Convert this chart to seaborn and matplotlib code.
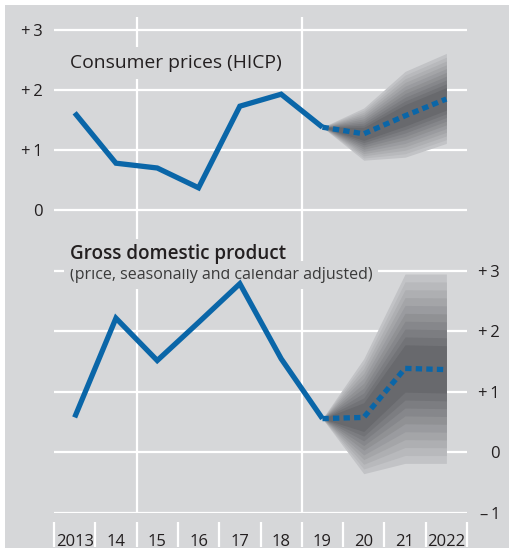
import numpy as np
import pandas as pd
import matplotlib
matplotlib.use("Agg")
import matplotlib.pyplot as plt
import seaborn as sns
from matplotlib.patches import Rectangle

# data (annual change in %)
years = [2013, 2014, 2015, 2016, 2017, 2018, 2019, 2020, 2021, 2022]
year_labels = ["2013", "14", "15", "16", "17", "18", "19", "20", "21", "2022"]

hicp = [1.62, 0.78, 0.70, 0.37, 1.73, 1.93, 1.38, 1.27, 1.57, 1.85]
hicp_upper = [1.38, 1.70, 2.31, 2.61]   # 2019-2022 outer fan edge
hicp_lower = [1.38, 0.83, 0.88, 1.11]

gdp = [0.58, 2.22, 1.52, 2.15, 2.79, 1.55, 0.56, 0.58, 1.39, 1.37]
gdp_upper = [0.56, 1.55, 2.95, 2.95]
gdp_lower = [0.56, -0.35, -0.18, -0.18]

n_hist = 7  # 2013-2019 outturn, 2019-2022 projection

# fan levels as share of the outer range (core band last)
fan_levels = [1.0, 0.917, 0.833, 0.75, 0.667, 0.583, 0.5, 0.417, 0.333, 0.25]

BG = "#d6d7d9"
BLUE = "#0a66a8"
TXT = "#231f20"

sns.set_theme(style="white", rc={"axes.facecolor": "none"})
plt.rcParams["font.family"] = ["Open Sans", "DejaVu Sans"]

W, H = 510, 555
fig = plt.figure(figsize=(W / 100, H / 100), dpi=100, facecolor="white")
fig.add_artist(Rectangle((5 / W, 7 / H), 1, 1 - 12 / H, transform=fig.transFigure,
                         facecolor=BG, edgecolor="none", zorder=-10))


def px_rect(left, top, right, bottom):
    return [left / W, 1 - bottom / H, (right - left) / W, (bottom - top) / H]


ax1 = fig.add_axes(px_rect(54, 17, 467, 240))
ax2 = fig.add_axes(px_rect(54, 240, 467, 513))

fan_colors = sns.blend_palette(["#c2c3c6", "#68696d"], len(fan_levels))


def draw_panel(ax, values, upper, lower):
    df = pd.DataFrame({"year": years, "value": values})
    hist = df.iloc[:n_hist]
    proj = df.iloc[n_hist - 1:]
    mid = np.array(proj["value"])
    up = np.array(upper)
    lo = np.array(lower)
    for lev, col in zip(fan_levels, fan_colors):
        ax.fill_between(proj["year"], mid - lev * (mid - lo), mid + lev * (up - mid),
                        color=col, lw=0, zorder=2)
    sns.lineplot(data=hist, x="year", y="value", ax=ax, color=BLUE, lw=3.8,
                 solid_joinstyle="miter", solid_capstyle="butt", zorder=4)
    sns.lineplot(data=proj, x="year", y="value", ax=ax, color=BLUE, lw=3.8,
                 linestyle=(0, (1.2, 0.8)), dash_capstyle="butt", zorder=4)
    ax.set_xlim(2012.5, 2022.5)
    for xv in (2014.5, 2018.5):
        ax.axvline(xv, color="white", lw=1.6, zorder=1)
    ax.grid(axis="y", color="white", lw=1.6, zorder=1)
    ax.set_axisbelow(True)
    for s in ax.spines.values():
        s.set_visible(False)
    ax.set_xlabel("")
    ax.set_ylabel("")


draw_panel(ax1, hicp, hicp_upper, hicp_lower)
draw_panel(ax2, gdp, gdp_upper, gdp_lower)

# top panel axis
ax1.set_ylim(-0.5, 3.2167)
ax1.set_yticks([0, 1, 2, 3])
ax1.set_yticklabels(["0", "+\u20091", "+\u20092", "+\u20093"])
ax1.tick_params(axis="y", length=0, pad=7.9, labelsize=12, labelcolor=TXT)
ax1.set_xticks([])

# bottom panel axis
ax2.set_ylim(-1, 3.512)
ax2.yaxis.tick_right()
ax2.set_yticks([-1, 0, 1, 2, 3])
ax2.set_yticklabels(["\u2013\u20091", "0", "+\u20091", "+\u20092", "+\u20093"])
ax2.tick_params(axis="y", length=0, pad=23.8, labelsize=12, labelcolor=TXT)
for lab in ax2.get_yticklabels():
    lab.set_horizontalalignment("right")
ax2.set_xticks(years)
ax2.set_xticklabels(year_labels)
ax2.tick_params(axis="x", length=0, pad=15, labelsize=12, labelcolor=TXT)
ax2.vlines(np.arange(2012.5, 2023), -1.562, -1.149, color="white", lw=1.6, clip_on=False)

box = dict(boxstyle="square,pad=0.35", facecolor=BG, edgecolor="none")
ax1.text(70 / W, 1 - 68 / H, "Consumer prices (HICP)", transform=fig.transFigure,
         fontsize=13.9, color=TXT, va="baseline", bbox=box, zorder=3)
ax2.text(70 / W, 1 - 279 / H, "(price, seasonally and calendar adjusted)",
         transform=fig.transFigure, fontsize=11.5, color="#3a3a3a", va="baseline",
         bbox=box, zorder=3)
ax2.text(70 / W, 1 - 259 / H, "Gross domestic product", transform=fig.transFigure,
         fontsize=13.6, fontweight="semibold", color=TXT, va="baseline",
         bbox=dict(boxstyle="square,pad=0.25", facecolor=BG, edgecolor="none"), zorder=3.2)

fig.savefig("out.png", dpi=100, facecolor="white")
